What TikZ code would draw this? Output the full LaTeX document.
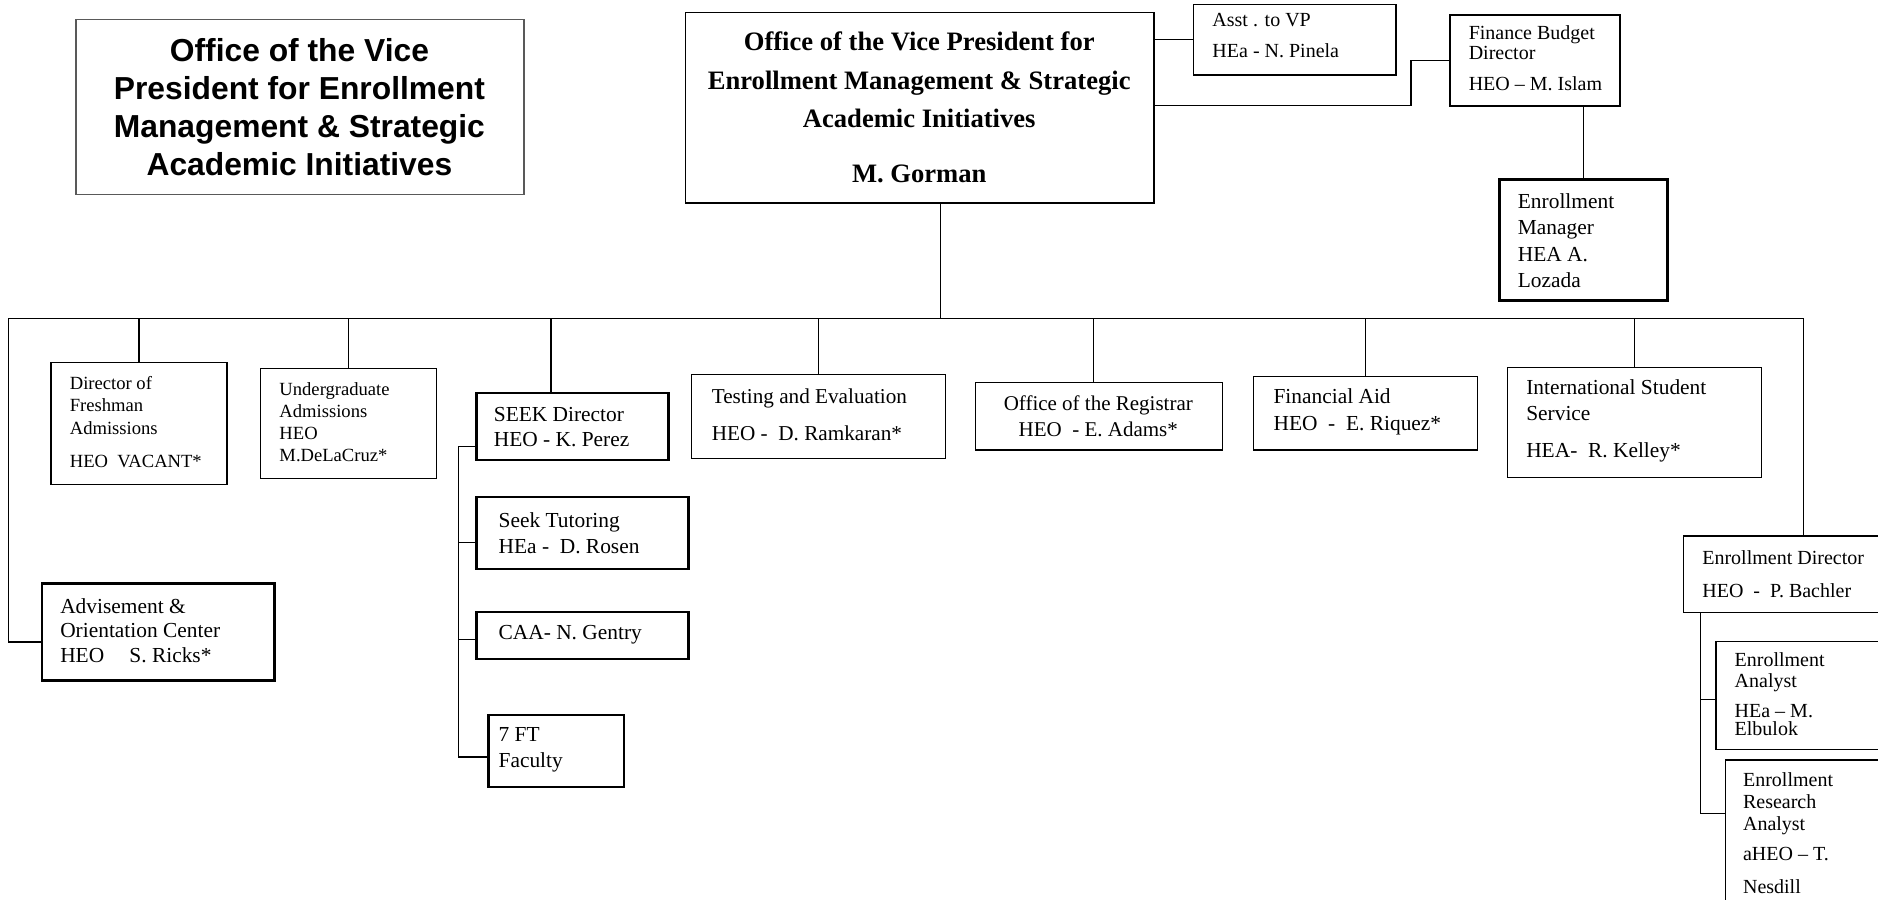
\documentclass[tikz,border=0pt]{standalone}
\usepackage{fontspec}
\setmainfont{Liberation Serif}
\newfontfamily\sansfam{Liberation Sans}
\usetikzlibrary{calc}
\tikzset{
  bx/.style={draw, line width=0.7pt, anchor=north west, inner sep=0pt},
  thk/.style={line width=1.3pt},
  sz/.style 2 args={minimum width=#1*0.5989pt, minimum height=#2*0.5989pt},
  tx/.style={anchor=west, align=left, inner sep=0pt},
  conn/.style={line width=0.7pt},
  fA/.style={font=\fontsize{9.3pt}{11.1pt}\selectfont},
  fB/.style={font=\fontsize{10pt}{12.6pt}\selectfont},
  fC/.style={font=\fontsize{10.7pt}{13.2pt}\selectfont},
}
\begin{document}
\begin{tikzpicture}[x=0.5989pt, y=-0.5989pt]
\useasboundingbox (0,0) rectangle (1568,751);

% boxes
\node[bx, sz={374}{146}, draw=black!65, line width=0.6pt] (title) at (63,16) {};
\node[bx, sz={391}{159}] (vp) at (572,10) {};
\node[bx, sz={169}{59}] (asst) at (996,3) {};
\node[bx, sz={142}{76}] (fin) at (1210,12) {};
\node[bx, thk, sz={140}{101}] (mgr) at (1251,149) {};
\node[bx, sz={147}{102}] (fresh) at (42,302) {};
\node[bx, sz={147}{92}] (ugrad) at (217,307) {};
\node[bx, thk, sz={160}{56}] (seek) at (397,327) {};
\node[bx, sz={212}{70}] (test) at (577,312) {};
\node[bx, sz={206}{56}] (reg) at (814,319) {};
\node[bx, sz={187}{61}] (aid) at (1046,314) {};
\node[bx, sz={212}{92}] (intl) at (1258,306) {};
\node[bx, sz={175}{64}] (enrdir) at (1405,447) {};
\node[bx, sz={145}{90}] (analyst) at (1432,535) {};
\node[bx, sz={145}{135}] (research) at (1440,634) {};
\node[bx, thk, sz={194}{81}] (advise) at (34,486) {};
\node[bx, thk, sz={177}{60}] (tutor) at (397,414) {};
\node[bx, thk, sz={177}{39}] (caa) at (397,510) {};
\node[bx, thk, sz={113}{60}] (ft) at (407,596) {};

% texts
\node[align=center, inner sep=0pt, font=\sansfam\bfseries\fontsize{15.9pt}{19pt}\selectfont] (titleT) at (250,89.5)
  {Office of the Vice\\President for Enrollment\\Management \& Strategic\\Academic Initiatives};
\node[align=center, inner sep=0pt, font=\bfseries\fontsize{13.3pt}{19.2pt}\selectfont] (vpT) at (767.5,90)
  {Office of the Vice President for\\Enrollment Management \& Strategic\\Academic Initiatives\\[8.4pt]M. Gorman};
\node[tx, fB] (asstT) at (1012,30) {Asst . to VP\\[3pt]HEa - N. Pinela};
\node[tx, font=\fontsize{10pt}{10.2pt}\selectfont] (finT) at (1226,48.5) {Finance Budget\\Director\\[5.4pt]HEO -- M. Islam};
\node[tx, fC] (mgrT) at (1267,201) {Enrollment\\Manager\\HEA A.\\Lozada};
\node[tx, fA] (freshT) at (58,352.5) {Director of\\Freshman\\Admissions\\[5.7pt]HEO\ \ VACANT*};
\node[tx, fA] (ugradT) at (233,352.5) {Undergraduate\\Admissions\\HEO\\M.DeLaCruz*};
\node[tx, font=\fontsize{10.7pt}{12.6pt}\selectfont] (seekT) at (412,356.5) {SEEK Director\\HEO - K. Perez};
\node[tx, font=\fontsize{10.6pt}{12.6pt}\selectfont] (testT) at (594,346.5) {Testing and Evaluation\\[6pt]HEO -\ \ D. Ramkaran*};
\node[align=center, inner sep=0pt, font=\fontsize{10.5pt}{12.6pt}\selectfont] (regT) at (917,347.5) {Office of the Registrar\\HEO\ \ - E. Adams*};
\node[tx, fC] (aidT) at (1063,344) {Financial Aid\\HEO\ \ -\ \ E. Riquez*};
\node[tx, fC] (intlT) at (1274,351.5) {International Student\\Service\\[5.4pt]HEA-\ \ R. Kelley*};
\node[tx, fB] (enrdirT) at (1421,479.5) {Enrollment Director\\[3.6pt]HEO\ \ -\ \ P. Bachler};
\node[tx, font=\fontsize{10pt}{10.2pt}\selectfont] (analystT) at (1448,579.5) {Enrollment\\Analyst\\[4.8pt]HEa -- M.\\[-1.2pt]Elbulok};
\node[tx, font=\fontsize{10pt}{11.1pt}\selectfont] (researchT) at (1455,695.5) {Enrollment\\Research\\Analyst\\[3.9pt]aHEO -- T.\\[5.1pt]Nesdill};
\node[tx, font=\fontsize{10.7pt}{12.3pt}\selectfont] (adviseT) at (50,526.5) {Advisement \&\\Orientation Center\\HEO\hspace{12.6pt}S. Ricks*};
\node[tx, fC] (tutorT) at (416,445) {Seek Tutoring\\HEa -\ \ D. Rosen};
\node[tx, fC] (caaT) at (416,530) {CAA- N. Gentry};
\node[tx, fC] (ftT) at (416,626) {7 FT\\Faculty};

% coordinates
\coordinate (bL) at (7,266);
\coordinate (bR) at (1506,266);
\coordinate (bV) at (785,266);
\coordinate (sD) at (460,266);
\coordinate (rD) at (913,266);
\coordinate (aJ) at (7,536);
\coordinate (fK) at (1178,88);
\coordinate (sJ) at (383,373);
\coordinate (tJ) at (383,453);
\coordinate (cJ) at (383,534);
\coordinate (sB) at (383,632);
\coordinate (eA) at (1420,584);
\coordinate (eB) at (1420,679);

% connectors
\draw[conn] (vp.south -| bV) -- (bV);
\draw[conn] (bL) -- (bR);
\draw[conn] (fresh.north) -- (fresh.north |- bL);
\draw[conn] (ugrad.north) -- (ugrad.north |- bL);
\draw[conn] (sD) -- (sD |- seek.north);
\draw[conn] (test.north) -- (test.north |- bL);
\draw[conn] (rD) -- (rD |- reg.north);
\draw[conn] (aid.north) -- (aid.north |- bL);
\draw[conn] (intl.north) -- (intl.north |- bL);
\draw[conn] (bR) -- (bR |- enrdir.north);
\draw[conn] (bL) -- (aJ) -- (aJ -| advise.west);
\draw[conn] (asst.west) -- (asst.west -| vp.east);
\draw[conn] (vp.east |- fK) -- (fK) |- (fin.west);
\draw[conn] (mgr.north) -- (mgr.north |- fin.south);
\draw[conn] (seek.west |- sJ) -- (sJ) -- (sB) -- (sB -| ft.west);
\draw[conn] (tJ) -- (tJ -| tutor.west);
\draw[conn] (cJ) -- (cJ -| caa.west);
\draw[conn] (eB |- enrdir.south) -- (eB) -- (eB -| research.west);
\draw[conn] (eA) -- (eA -| analyst.west);
\end{tikzpicture}
\end{document}
